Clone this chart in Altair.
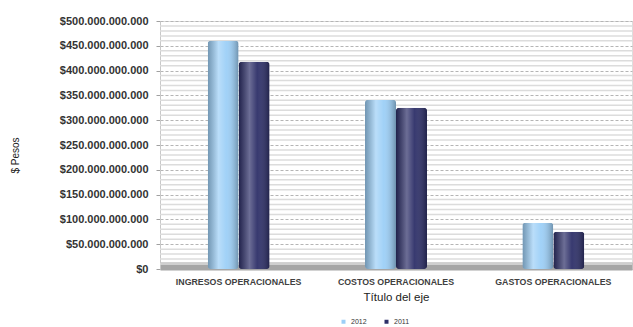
import altair as alt
import pandas as pd

categorias = ["INGRESOS OPERACIONALES", "COSTOS OPERACIONALES", "GASTOS OPERACIONALES"]
anios = ["2012", "2011"]
valores_2012 = [460e9, 341e9, 93e9]
valores_2011 = [418e9, 325e9, 75e9]
ticks_y = [0, 50e9, 100e9, 150e9, 200e9, 250e9, 300e9, 350e9, 400e9, 450e9, 500e9]
minor_y = [v * 1e9 for v in range(10, 500, 10) if v % 50 != 0]
colores = ["#9ccff7", "#2d2f68"]

rows = []
for c, a, b in zip(categorias, valores_2012, valores_2011):
    rows.append({"categoria": c, "anio": "2012", "valor": a})
    rows.append({"categoria": c, "anio": "2011", "valor": b})
df = pd.DataFrame(rows)
minor_df = pd.DataFrame({"valor": minor_y})

FONT = "Liberation Sans"

x_scale = alt.Scale(paddingInner=0.606, paddingOuter=0.303)
x_enc = alt.X(
    "categoria:N",
    sort=categorias,
    scale=x_scale,
    axis=alt.Axis(
        title="Título del eje", labelAngle=0, ticks=False,
        domainColor="#a6a6a6", domainWidth=8, offset=-3,
        labelFont=FONT, labelFontSize=8.8, labelFontWeight="bold", labelColor="#404040",
        labelPadding=11, titleFont=FONT, titleFontSize=11.5, titleFontWeight="normal",
        titleColor="#222222", titlePadding=6,
    ),
)
xoff = alt.XOffset("anio:N", sort=anios, scale=alt.Scale(paddingInner=0, paddingOuter=0))
y_scale = alt.Scale(domain=[0, 500e9], nice=False)
y_axis = alt.Axis(
    values=ticks_y, format="$,.0f", title="$ Pesos", labelOverlap=False,
    grid=True, gridDash=[3, 2], gridColor="#b5b5b5",
    tickSize=4, tickColor="#a0a0a0", domainColor="#c8c8c8",
    labelFont=FONT, labelFontSize=11, labelFontWeight="bold", labelColor="#333333",
    labelPadding=8, titleFont=FONT, titleFontSize=10, titleFontWeight="normal",
    titleColor="#222222", titleX=-140, titleY=134,
)
y_enc = alt.Y("valor:Q", scale=y_scale, axis=y_axis)

minor = alt.Chart(minor_df).mark_rule(color="#dcdcdc", strokeWidth=1.5).encode(
    y=alt.Y("valor:Q", scale=y_scale, axis=y_axis)
)

bars = alt.Chart(df).mark_bar(cornerRadius=3).encode(
    x=x_enc,
    xOffset=xoff,
    y=y_enc,
    color=alt.Color(
        "anio:N",
        sort=anios,
        scale=alt.Scale(domain=anios, range=colores),
        legend=alt.Legend(
            title=None, orient="none", legendX=180, legendY=297, direction="horizontal",
            symbolType="square", symbolSize=16, labelFontSize=7, labelFont=FONT,
            labelColor="#333333", columnPadding=16, symbolStrokeWidth=0,
        ),
    ),
)

shade = alt.Gradient(
    gradient="linear",
    stops=[
        alt.GradientStop(color="rgba(0,0,0,0.28)", offset=0),
        alt.GradientStop(color="rgba(255,255,255,0.30)", offset=0.35),
        alt.GradientStop(color="rgba(255,255,255,0.05)", offset=0.6),
        alt.GradientStop(color="rgba(0,0,0,0.30)", offset=1),
    ],
    x1=0, x2=1, y1=0, y2=0,
)
shine = alt.Chart(df).mark_bar(cornerRadius=3, fill=shade).encode(
    x=x_enc,
    xOffset=xoff,
    y=y_enc,
)

chart = alt.layer(minor, bars, shine).properties(
    width=472, height=248,
    autosize=alt.AutoSizeParams(type="none"),
    padding={"left": 160, "top": 21, "right": 1, "bottom": 58},
).configure_view(stroke="#c4c4c4").configure(font=FONT)

chart.save(
    "out.html",
    embed_options={
        "renderer": "svg",
        "actions": False,
        "formatLocale": {"decimal": ",", "thousands": ".", "grouping": [3], "currency": ["$", ""]},
    },
)
